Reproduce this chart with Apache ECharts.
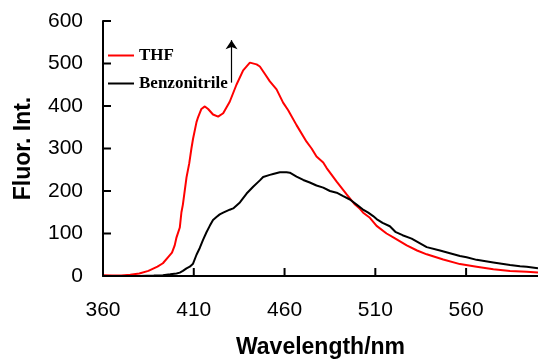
<!DOCTYPE html>
<html>
<head>
<meta charset="utf-8">
<script src="https://cdn.jsdelivr.net/npm/echarts@6/dist/echarts.min.js"></script>
<style>
  html, body { margin: 0; padding: 0; background: #fff; }
  #chart { width: 538px; height: 364px; }
</style>
</head>
<body>
<div id="chart"></div>
<script>
// THF emission (red)
var thfNm = [360,365,370,375,380,385,390,393,396,398,399.5,400.5,402.3,403.2,404,406,407.5,408.7,409.6,411.5,
  412.4,414.2,415.1,416.1,417.9,420.6,423.4,426.2,429.8,433.5,437.2,440.9,444.6,446.4,449.1,451.9,455.6,459.2,462,466.6,
  472.1,474.9,477.6,481.3,483.2,488.7,494.2,498.8,501.5,503.3,507,510.7,516.2,519.9,527.3,533,538.3,547.4,556.6,565.8,
  575,584.2,593.4,599.6];
var thfInt = [2,1,1,3,6,12,22,30,45,55,72,91,114,150,168,232,265,300,323,362,
  374,393,397,399,393,380,375,383,410,450,484,502,498,493,476,458,439,408,390,355,
  316,300,281,267,254,222,192,168,158,149,137,118,100,91,72,60,51,39,28,22,
  16,12,10,8];

// Benzonitrile emission (black)
var bzNm = [360,370,380,388,393,397,400.5,402.3,404,406,407.8,409.6,411.5,413.3,415.1,417,418.8,420.6,422.5,424.3,
  426.2,429.8,431.7,435.4,439.1,442.7,446.4,448.2,451.9,453.7,457.4,461.1,462.9,466.6,470.3,473.9,477.6,481.3,485,488.7,
  492.3,496,499.7,503,506.1,508.8,510.7,514,518,521,525,530,538.3,545.6,556.6,560.3,565.8,575,584.2,589.7,
  593.4,599.6];
var bzInt = [0,0,0,1,2,4,6,8,12,18,22,29,50,66,85,103,118,132,139,145,
  149,156,159,173,194,210,225,233,238,240,244,244,243,234,226,220,213,208,200,196,
  188,180,168,157,149,141,134,125,117,104,96,88,68,60,47,44,38,32,26,23,
  22,18];

// tick positions
var xTicks = [360, 410, 460, 510, 560];
var yTicks = [0, 100, 200, 300, 400, 500, 600];

// arrow annotation (data coords)
var arrowNm = 430.8;
var arrowFrom = 455;
var arrowTo = 555;

function pairs(xs, ys) {
  return xs.map(function (x, i) { return [x, ys[i]]; });
}

var chart = echarts.init(document.getElementById('chart'));
var nameStyle = { color: '#000', fontSize: 23, fontWeight: 'bold', fontFamily: 'Liberation Sans' };
var tickLen = 8;

chart.setOption({
  animation: false,
  grid: { left: 103, right: 0, top: 21, bottom: 85 },
  legend: {
    orient: 'vertical',
    left: 103,
    top: 42,
    itemGap: 11,
    itemWidth: 26,
    itemHeight: 2,
    icon: 'rect',
    textStyle: { color: '#000', fontSize: 17, fontWeight: 'bold', fontFamily: 'Liberation Serif' },
    data: ['THF', 'Benzonitrile']
  },
  xAxis: {
    type: 'value',
    min: 360,
    max: 599.6,
    interval: 50,
    name: 'Wavelength/nm',
    nameLocation: 'middle',
    nameGap: 60,
    nameTextStyle: nameStyle,
    axisLine: { show: true, lineStyle: { color: '#000', width: 2 } },
    axisTick: { show: false },
    splitLine: { show: false },
    axisLabel: { color: '#000', fontSize: 21, fontFamily: 'Liberation Sans', margin: 24, showMaxLabel: false }
  },
  yAxis: {
    type: 'value',
    min: 0,
    max: 600,
    interval: 100,
    name: 'Fluor. Int.',
    nameLocation: 'middle',
    nameGap: 68,
    nameTextStyle: nameStyle,
    axisLine: { show: true, lineStyle: { color: '#000', width: 2 } },
    axisTick: { show: false },
    splitLine: { show: false },
    axisLabel: { color: '#000', fontSize: 21, fontFamily: 'Liberation Sans', margin: 20 }
  },
  series: [
    {
      name: 'THF',
      type: 'line',
      data: pairs(thfNm, thfInt),
      showSymbol: false,
      color: '#ff0000',
      lineStyle: { color: '#ff0000', width: 2 },
      markLine: {
        silent: true,
        symbol: ['none', 'arrow'],
        symbolSize: 9,
        label: { show: false },
        lineStyle: { color: '#000', width: 1.2, type: 'solid' },
        data: [[{ coord: [arrowNm, arrowFrom] }, { coord: [arrowNm, arrowTo] }]]
      }
    },
    {
      name: 'Benzonitrile',
      type: 'line',
      data: pairs(bzNm, bzInt),
      showSymbol: false,
      color: '#000',
      lineStyle: { color: '#000', width: 2 }
    }
  ]
});

// inward ticks, placed through the axis scales
var x0 = chart.convertToPixel({ xAxisIndex: 0 }, 360);
var y0 = chart.convertToPixel({ yAxisIndex: 0 }, 0);
var ticks = [];
xTicks.forEach(function (v) {
  var px = chart.convertToPixel({ xAxisIndex: 0 }, v);
  ticks.push({ type: 'line', shape: { x1: px, y1: y0, x2: px, y2: y0 - tickLen },
    style: { stroke: '#000', lineWidth: 2 }, z: 10 });
});
yTicks.forEach(function (v) {
  var py = chart.convertToPixel({ yAxisIndex: 0 }, v);
  ticks.push({ type: 'line', shape: { x1: x0, y1: py, x2: x0 + tickLen, y2: py },
    style: { stroke: '#000', lineWidth: 2 }, z: 10 });
});
chart.setOption({ graphic: ticks });
</script>
</body>
</html>
